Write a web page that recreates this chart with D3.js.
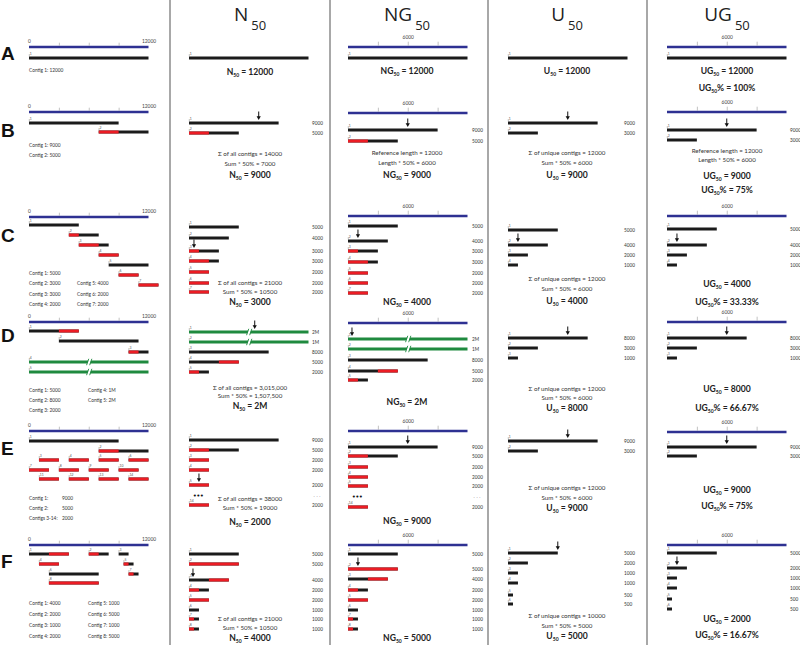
<!DOCTYPE html>
<html><head><meta charset="utf-8">
<script src="https://cdn.jsdelivr.net/npm/d3@7"></script>
<style>body{margin:0;background:#fff} svg{display:block}</style>
</head><body><svg id="c" width="800" height="645"></svg>
<script>
// ================= DATA =================
const rowLetters = ["A","B","C","D","E","F"];
const columnTitles = [["N","50"],["NG","50"],["U","50"],["UG","50"]];
const refLength = 12000;
const refTicks = [0,3000,6000,9000,12000];

// contigs placed on the reference: [id, start, end, overlapStart, overlapEnd]
const contigsA = [[1,0,12000]];
const contigsB = [[1,0,9000],[2,7000,12000,7000,9000]];
const contigsC = [[1,0,5000],[2,4000,7000,4000,5000],[3,5000,8000,5000,7000],[4,7000,9000,7000,9000],
                  [5,8000,12000],[6,9000,11000,9000,11000],[7,11000,13000,11000,13000]];
const contigsD = [[1,0,5000,3000,5000],[2,3000,11000],[3,10000,12000,10000,11000],[4,0,1000000],[5,0,2000000]];
const contigsE = [[1,0,9000],[2,7000,12000,7000,9000],
                  [3,1000,3000,1000,3000],[4,4000,6000,4000,6000],[5,7000,9000,7000,9000],[6,10000,12000,10000,12000],
                  [7,0,2000,0,2000],[8,3000,5000,3000,5000],[9,6000,8000,6000,8000],[10,9000,11000,9000,11000],
                  [11,1000,3000,1000,3000],[12,4000,6000,4000,6000],[13,7000,9000,7000,9000],[14,10000,12000,10000,12000]];
const contigsF = [[1,0,4000,2000,4000],[2,6000,8000,6000,7000],[3,9000,10000],[4,1000,3000,1000,3000],
                  [5,9500,10500,9500,10000],[6,2000,7000],[7,10000,11000,10000,10500],[8,2000,7000,2000,7000]];
const contigSets = [contigsA, contigsB, contigsC, contigsD, contigsE, contigsF];

// legend texts (columns of lines)
const legendA = [["Contig 1: 12000"]];
const legendB = [["Contig 1: 9000","Contig 2: 5000"]];
const legendC = [["Contig 1: 5000","Contig 2: 3000","Contig 3: 3000","Contig 4: 2000"],["","Contig 5:  4000","Contig 6:  2000","Contig 7:  2000"]];
const legendD = [["Contig 1: 5000","Contig 2: 8000","Contig 3: 2000"],["Contig 4: 1M","Contig 5: 2M"]];
const legendE = [["Contig 1:","Contig 2:","Contigs 3-14:"],["9000","5000","2000"]];
const legendF = [["Contig 1: 4000","Contig 2: 2000","Contig 3: 1000","Contig 4: 2000"],["Contig 5:  1000","Contig 6:  5000","Contig 7:  1000","Contig 8:  5000"]];
const legends = [legendA, legendB, legendC, legendD, legendE, legendF];

// unique (non-overlapping) contig lengths used for U50 / UG50
const uniqueLengths = [[12000],[9000,3000],[5000,4000,2000,1000],[8000,3000,1000],[9000,3000],[5000,2000,1000,1000,500,500]];

// arrow marks: [bar index, position in bp along that bar]
const arrowN50  = [null,[0,7000],[2,500],[0,6600],[4,1000],[2,400]];
const arrowNG50 = [null,[0,6000],[1,1000],[0,400],[0,6000],[1,1000]];
const arrowU50  = [null,[0,6000],[1,1000],[0,6000],[0,6000],[0,5000]];
const arrowUG50 = [null,[0,6000],[1,1000],[0,6000],[0,6000],[1,1000]];

// explanatory texts
const sumTextsN50 = [null,
  ["\u03A3 of all contigs = 14000","Sum * 50% = 7000"],
  ["\u03A3 of all contigs = 21000","Sum * 50% = 10500"],
  ["\u03A3 of all contigs = 3,015,000","Sum * 50% = 1,507,500"],
  ["\u03A3 of all contigs = 38000","Sum * 50% = 19000"],
  ["\u03A3 of all contigs = 21000","Sum * 50% = 10500"]];
const sumTextsNG50 = [null,["Reference length = 12000","Length * 50% = 6000"],null,null,null,null];
const sumTextsU50 = [null,
  ["\u03A3 of unique contigs = 12000","Sum * 50% = 6000"],
  ["\u03A3 of unique contigs = 12000","Sum * 50% = 6000"],
  ["\u03A3 of unique contigs = 12000","Sum * 50% = 6000"],
  ["\u03A3 of unique contigs = 12000","Sum * 50% = 6000"],
  ["\u03A3 of unique contigs = 10000","Sum * 50% = 5000"]];
const sumTextsUG50 = [null,["Reference length = 12000","Length * 50% = 6000"],null,null,null,null];

const resultN50  = ["12000","9000","3000","2M","2000","4000"];
const resultNG50 = ["12000","9000","4000","2M","9000","5000"];
const resultU50  = ["12000","9000","4000","8000","9000","5000"];
const resultUG50 = ["12000","9000","4000","8000","9000","2000"];
const percentUG50 = ["100%","75%","33.33%","66.67%","75%","16.67%"];

// ================= LAYOUT =================
const FONT = "Lato, 'Open Sans', sans-serif";
const COL = {black:"#1b1b1b", red:"#ec1c24", blue:"#2e3192", green:"#1f8a3f", grid:"#9a9a9a", text:"#333"};
const colX = [29,189,348,508,667], W = 119.5;
const valueX = [null,312,472,624,790];
const centerX = [null,250,407,567,727];
const dividers = [170,330,488,647];
const layout = [
 {letterY:60, axis1:47, lanes:[58], legendX:[29], legendY:[70],
  n50:{ys:[58], text:[72]}, ng50:{axis:47, ys:[58], text:[71]}, u50:{ys:[58], text:[71]}, ug50:{axis:47, ys:[58], text:[71,88]}},
 {letterY:137, axis1:112, lanes:[123,132], legendX:[29], legendY:[145,155],
  n50:{ys:[123,133], text:[154,164,175]}, ng50:{axis:113, ys:[130,141], text:[153,163,175]},
  u50:{ys:[123,133], text:[153,163,175]}, ug50:{axis:112, ys:[130,140], text:[151,160,176,190]}},
 {letterY:242, axis1:217, lanes:[225,235,245,255,265,275,285], legendX:[29,77], legendY:[273,283,294,304],
  n50:{ys:[227,238,251,261,272,283,292], text:[283,292,302]}, ng50:{axis:216, ys:[226,241,251,262,273,283,293], text:[302]},
  u50:{ys:[230,245,255,265], text:[279,289,301]}, ug50:{axis:216, ys:[229,245,255,265], text:[284,302]}},
 {letterY:342, axis1:322, lanes:[331,341,352,362,372], legendX:[29,88], legendY:[390,400,410],
  n50:{ys:[332,342,352,362,372], text:[388,396,406]}, ng50:{axis:323, ys:[339,349,360,371,380], text:[402]},
  u50:{ys:[338,348,358], text:[389,398,408]}, ug50:{axis:322, ys:[338,348,358], text:[389,408]}},
 {letterY:455, axis1:431, lanes:[441,451,460,460,460,460,470,470,470,470,479,479,479,479], legendX:[29,62], legendY:[498,508,518],
  n50:{ys:[440,450,460,470,485,505], show:[0,1,2,3,4,13], dots:496, text:[499,508,522]},
  ng50:{axis:431, ys:[447,456,467,477,486,507], show:[0,1,2,3,4,13], dots:497, text:[521]},
  u50:{ys:[441,451], text:[488,498,508]}, ug50:{axis:432, ys:[447,456], text:[490,506]}},
 {letterY:568, axis1:545, lanes:[554,554,554,564,564,574,574,583], legendX:[29,88], legendY:[603,614,625,636],
  n50:{ys:[554,564,580,590,600,610,619,629], text:[619,628,638]}, ng50:{axis:545, ys:[554,569,579,590,600,610,619,629], text:[638]},
  u50:{ys:[553,563,573,583,595,604], text:[616,626,636]}, ug50:{axis:545, ys:[553,568,578,588,599,609], text:[619,635]}}
];

// ================= DRAW =================
const svg = d3.select("#c");
const scales = colX.map(x0 => d3.scaleLinear().domain([0, refLength]).range([x0, x0 + W]));
const fmtLen = v => v >= 1e6 ? (v/1e6) + "M" : String(v);

// dividers
dividers.forEach(x => svg.append("line").attr("x1",x).attr("x2",x).attr("y1",0).attr("y2",645)
  .attr("stroke","#a8a8a8").attr("stroke-width",2));

// titles
columnTitles.forEach((t,i) => {
  const tx = svg.append("text").attr("x", centerX[i+1]).attr("y", 21).attr("text-anchor","middle")
    .attr("font-family","'Open Sans', sans-serif").attr("fill","#222");
  tx.append("tspan").attr("font-size",19).text(t[0]);
  tx.append("tspan").attr("font-size",13).attr("dx",3).attr("dy",9).text(t[1]);
});

// row letters
rowLetters.forEach((l,r) => svg.append("text").attr("x",1).attr("y",layout[r].letterY)
  .attr("font-family","'Liberation Sans', Arial, sans-serif").attr("font-weight","bold").attr("font-size",19).attr("fill","#111").text(l));

function refAxis(col, y, values, labelFn, tickSize, pad, hideEnds) {
  const sc = scales[col];
  svg.append("line").attr("x1",sc(0)).attr("x2",sc(refLength)).attr("y1",y).attr("y2",y)
    .attr("stroke",COL.blue).attr("stroke-width",2.6);
  const g = svg.append("g").attr("transform",`translate(0,${y-1.3})`)
    .call(d3.axisTop(sc).tickValues(values).tickSize(tickSize).tickPadding(pad).tickFormat(labelFn));
  g.attr("font-family",FONT).attr("font-size",4.9);
  g.select(".domain").remove();
  g.selectAll(".tick line").attr("stroke",COL.grid).attr("stroke-width",0.6)
    .attr("display", d => hideEnds && (d === 0 || d === refLength) ? "none" : null);
  g.selectAll(".tick text").attr("fill","#444");
}

function drawBar(sc, y, b, idLabel) {
  const long = b.len > refLength;
  const s = b.start, e = long ? s + refLength : s + b.len;
  svg.append("line").attr("x1",sc(s)).attr("x2",sc(e)).attr("y1",y).attr("y2",y)
    .attr("stroke", long ? COL.green : COL.black).attr("stroke-width",3);
  if (b.rs != null) svg.append("line").attr("x1",sc(b.rs)).attr("x2",sc(b.re)).attr("y1",y).attr("y2",y)
    .attr("stroke",COL.red).attr("stroke-width",3);
  if (long) {
    const xb = sc(s + 6000);
    svg.append("path").attr("d",`M${xb-1.6},${y+2}L${xb-0.2},${y-2}L${xb+2.4},${y-2}L${xb+1},${y+2}Z`).attr("fill","#fff");
    [[-2.2,0],[0.9,0]].forEach(([dx]) => svg.append("line")
      .attr("x1",xb+dx).attr("y1",y+3.2).attr("x2",xb+dx+2.2).attr("y2",y-3.2)
      .attr("stroke",COL.green).attr("stroke-width",0.9));
  }
  svg.append("line").attr("x1",sc(s)+0.3).attr("x2",sc(s)+0.3).attr("y1",y-4).attr("y2",y-1.5)
    .attr("stroke","#666").attr("stroke-width",0.4);
  svg.append("text").attr("x",sc(s)+0.8).attr("y",y-2.6).attr("font-size",3.4).attr("font-family",FONT)
    .attr("fill","#555").text(idLabel);
}

function arrow(x, y) {
  svg.append("line").attr("x1",x).attr("x2",x).attr("y1",y-11.5).attr("y2",y-6)
    .attr("stroke","#111").attr("stroke-width",1);
  svg.append("path").attr("d",`M${x-2.1},${y-6.8}L${x+2.1},${y-6.8}L${x},${y-3}Z`).attr("fill","#111");
}

function plainText(x, y, s) {
  svg.append("text").attr("x",x).attr("y",y+2.1).attr("text-anchor","middle").attr("font-family",FONT)
    .attr("font-size",6.2).attr("fill","#333").text(s);
}
function resultText(x, y, prefix, value, pct) {
  const t = svg.append("text").attr("x",x).attr("y",y+3).attr("text-anchor","middle").attr("font-family",FONT)
    .attr("font-weight","bold").attr("font-size",8.6).attr("fill","#222");
  t.append("tspan").text(prefix);
  t.append("tspan").attr("font-size",5).attr("dy",2.4).text("50");
  t.append("tspan").attr("dy",-2.4).text((pct ? "%" : "") + " = " + value);
}

const toBars = cs => cs.map(c => ({id:c[0], start:c[1], len:c[2]-c[1], rs:c[3], re:c[4]}));
const sortedBars = cs => toBars(cs).map(b => ({id:b.id, start:0, len:b.len,
    rs: b.rs != null ? b.rs - b.start : null, re: b.re != null ? b.re - b.start : null}))
  .sort((a,b) => b.len - a.len);

layout.forEach((L, r) => {
  // ---- column 1: reference with contigs ----
  refAxis(0, L.axis1, refTicks, d => (d === 0 || d === refLength) ? d : "", 3, -0.6, true);
  toBars(contigSets[r]).forEach((b,i) => drawBar(scales[0], L.lanes[i], b, b.id));
  legends[r].forEach((colLines, ci) => colLines.forEach((s, li) => {
    if (!s) return;
    svg.append("text").attr("x",L.legendX[ci]).attr("y",L.legendY[li]+1.7).attr("font-family",FONT)
      .attr("font-size",4.8).attr("fill","#333").text(s);
  }));

  // ---- N50 & NG50 columns ----
  const sb = sortedBars(contigSets[r]);
  [["n50",1,"N",sumTextsN50,resultN50,arrowN50],["ng50",2,"NG",sumTextsNG50,resultNG50,arrowNG50]].forEach(([k,ci,pre,sums,res,arr]) => {
    const P = L[k];
    if (P.axis != null) refAxis(ci, P.axis, [3000,6000,9000], d => d === 6000 ? d : "", 4, 2.6, false);
    const show = P.show || sb.map((_,i) => i);
    show.forEach((bi, j) => {
      const b = sb[bi], y = P.ys[j];
      drawBar(scales[ci], y, b, bi + 1);
      if (r > 0) svg.append("text").attr("x",valueX[ci]).attr("y",y+1.6).attr("font-family",FONT).attr("font-size",4.7)
        .attr("fill","#333").text(fmtLen(b.len));
    });
    if (P.dots != null) {
      svg.append("text").attr("x",scales[ci](900)).attr("y",P.dots+2).attr("text-anchor","middle")
        .attr("font-size",7).attr("font-family","'DejaVu Sans', sans-serif").attr("letter-spacing",-0.6)
        .attr("fill","#111").text("\u2022\u2022\u2022");
      svg.append("text").attr("x",valueX[ci]+5).attr("y",P.dots+1.5).attr("text-anchor","middle")
        .attr("font-size",5).attr("fill","#444").text("\u00B7 \u00B7 \u00B7");
    }
    if (arr[r]) {
      const [bi, pos] = arr[r];
      arrow(scales[ci](pos), P.ys[bi]);
    }
    let ti = 0;
    if (sums[r]) sums[r].forEach(s => plainText(centerX[ci], P.text[ti++], s));
    resultText(centerX[ci], P.text[ti], pre, res[r], false);
  });

  // ---- U50 & UG50 columns ----
  const ub = uniqueLengths[r].map((len,i) => ({id:i+1, start:0, len:len, rs:null, re:null}));
  [["u50",3,"U",sumTextsU50,resultU50,arrowU50,false],["ug50",4,"UG",sumTextsUG50,resultUG50,arrowUG50,true]].forEach(([k,ci,pre,sums,res,arr,pct]) => {
    const P = L[k];
    if (P.axis != null) refAxis(ci, P.axis, [3000,6000,9000], d => d === 6000 ? d : "", 4, 2.6, false);
    ub.forEach((b,j) => {
      const y = P.ys[j];
      drawBar(scales[ci], y, b, b.id);
      if (r > 0) svg.append("text").attr("x",valueX[ci]).attr("y",y+1.6).attr("font-family",FONT).attr("font-size",4.7)
        .attr("fill","#333").text(fmtLen(b.len));
    });
    if (arr[r]) {
      const [bi, pos] = arr[r];
      arrow(scales[ci](pos), P.ys[bi]);
    }
    let ti = 0;
    if (sums[r]) sums[r].forEach(s => plainText(centerX[ci], P.text[ti++], s));
    resultText(centerX[ci], P.text[ti++], pre, res[r], false);
    if (pct) resultText(centerX[ci], P.text[ti], pre, percentUG50[r], true);
  });
});
</script>
</body></html>
